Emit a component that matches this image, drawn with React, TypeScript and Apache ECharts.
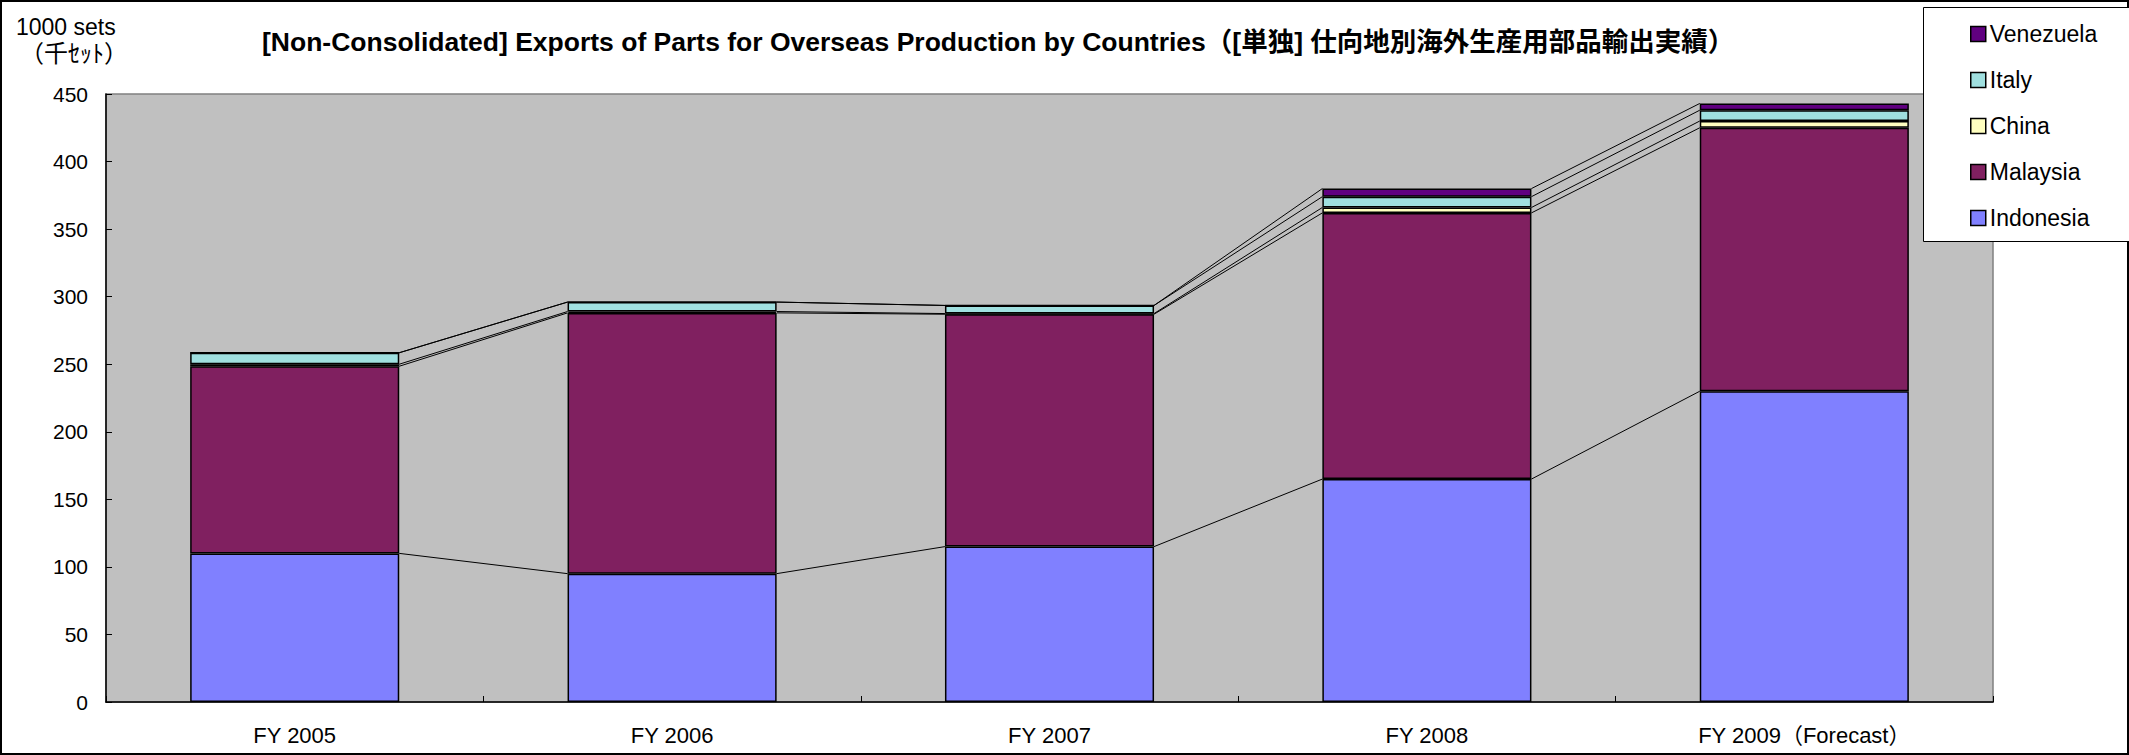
import React, { useEffect, useRef } from "react";
import * as echarts from "echarts";

const categories = ["FY 2005", "FY 2006", "FY 2007", "FY 2008", "FY 2009（Forecast）"];
const indonesia = [110, 95, 115, 165, 230];
const malaysia = [138.5, 193, 172, 197, 195];
const china = [1.5, 1, 0.5, 4, 5];
const italy = [8.5, 7, 6, 8, 8];
const venezuela = [0, 0, 0, 6, 5];
const seriesNames = ["Indonesia", "Malaysia", "China", "Italy", "Venezuela"];
const yTicks = { min: 0, max: 450, interval: 50 };

const FONT = "'Liberation Sans', 'Noto Sans CJK JP', sans-serif";

export default function App() {
  const ref = useRef<HTMLDivElement>(null);
  useEffect(() => {
    if (!ref.current) return;
    const chart = echarts.init(ref.current, undefined, { renderer: "svg" });
    const seriesData = [indonesia, malaysia, china, italy, venezuela];
    const colors = ["#8080FF", "#802060", "#FFFFC0", "#A0E0E0", "#600080"];
    const cum: number[][] = [];
    let running = categories.map(() => 0);
    seriesData.forEach((arr) => {
      running = running.map((r, i) => r + arr[i]);
      cum.push(running.slice());
    });
    const barRatio = 0.554;
    const bars = seriesData.map((arr, k) => ({
      name: seriesNames[k],
      type: "bar",
      stack: "total",
      data: arr,
      barWidth: "55.4%",
      itemStyle: { color: colors[k], borderColor: "#000", borderWidth: 1.5 },
    }));
    const linesSeries = {
      type: "custom",
      data: categories.slice(0, categories.length - 1).map((_, i) => [i, cum[4][i]]),
      encode: { x: 0, y: 1 },
      silent: true,
      z: 1,
      renderItem: (params: any, api: any) => {
        const i = params.dataIndex;
        const cw = api.size([1, 0])[0];
        const half = (cw * barRatio) / 2;
        const children = cum.map((lvl) => {
          const p1 = api.coord([i, lvl[i]]);
          const p2 = api.coord([i + 1, lvl[i + 1]]);
          return {
            type: "line",
            shape: { x1: p1[0] + half, y1: p1[1], x2: p2[0] - half, y2: p2[1] },
            style: { stroke: "#000", lineWidth: 1 },
          };
        });
        return { type: "group", children };
      },
    };
    chart.setOption({
      animation: false,
      textStyle: { fontFamily: FONT },
      grid: {
        left: 106,
        right: 136,
        top: 94,
        bottom: 53,
        show: true,
        backgroundColor: "#C0C0C0",
        borderColor: "#808080",
        borderWidth: 1.5,
      },
      legend: {
        orient: "vertical",
        left: 1965,
        top: 17,
        z: 10,
        data: ["Venezuela", "Italy", "China", "Malaysia", "Indonesia"],
        itemWidth: 15,
        itemHeight: 15,
        itemGap: 22,
        icon: "rect",
        itemStyle: { borderColor: "#000", borderWidth: 1.5 },
        textStyle: { fontSize: 23, color: "#000", fontFamily: FONT, lineHeight: 24, padding: [0, 0, 0, -1] },
      },
      xAxis: {
        type: "category",
        data: categories,
        axisLine: { show: true, lineStyle: { color: "#000", width: 1.5 } },
        axisTick: { show: true, inside: true, length: 6, lineStyle: { color: "#000" } },
        axisLabel: { fontSize: 22, color: "#000", margin: 22, fontFamily: FONT },
        splitLine: { show: false },
      },
      yAxis: {
        type: "value",
        min: yTicks.min,
        max: yTicks.max,
        interval: yTicks.interval,
        axisLine: { show: true, lineStyle: { color: "#000", width: 1.5 } },
        axisTick: { show: true, inside: true, length: 6, lineStyle: { color: "#000" } },
        axisLabel: { fontSize: 21, color: "#000", margin: 18, fontFamily: FONT },
        splitLine: { show: false },
      },
      graphic: [
        {
          type: "rect",
          z: -10,
          silent: true,
          shape: { x: 1, y: 1, width: 2127, height: 753 },
          style: { fill: "#fff", stroke: "#000", lineWidth: 2 },
        },
        {
          type: "rect",
          z: 3,
          silent: true,
          shape: { x: 1923.5, y: 7.5, width: 220, height: 234 },
          style: { fill: "#fff", stroke: "#000", lineWidth: 1 },
        },
        {
          type: "text",
          left: 16,
          top: 15,
          style: { text: "1000 sets", fontSize: 23, fill: "#000", fontFamily: FONT },
        },
        {
          type: "text",
          left: 20,
          top: 41,
          style: { text: "（千ｾｯﾄ）", fontSize: 24, fill: "#000", fontFamily: FONT },
        },
        {
          type: "text",
          left: 262,
          top: 29,
          style: {
            text: "[Non-Consolidated] Exports of Parts for Overseas Production by Countries（[単独] 仕向地別海外生産用部品輸出実績）",
            fontSize: 26.5,
            fontWeight: "bold",
            fill: "#000",
            fontFamily: FONT,
          },
        },
      ],
      series: [...bars, linesSeries],
    });
    return () => chart.dispose();
  }, []);
  return <div ref={ref} style={{ position: "absolute", left: 0, top: 0, width: 2129, height: 755 }} />;
}
